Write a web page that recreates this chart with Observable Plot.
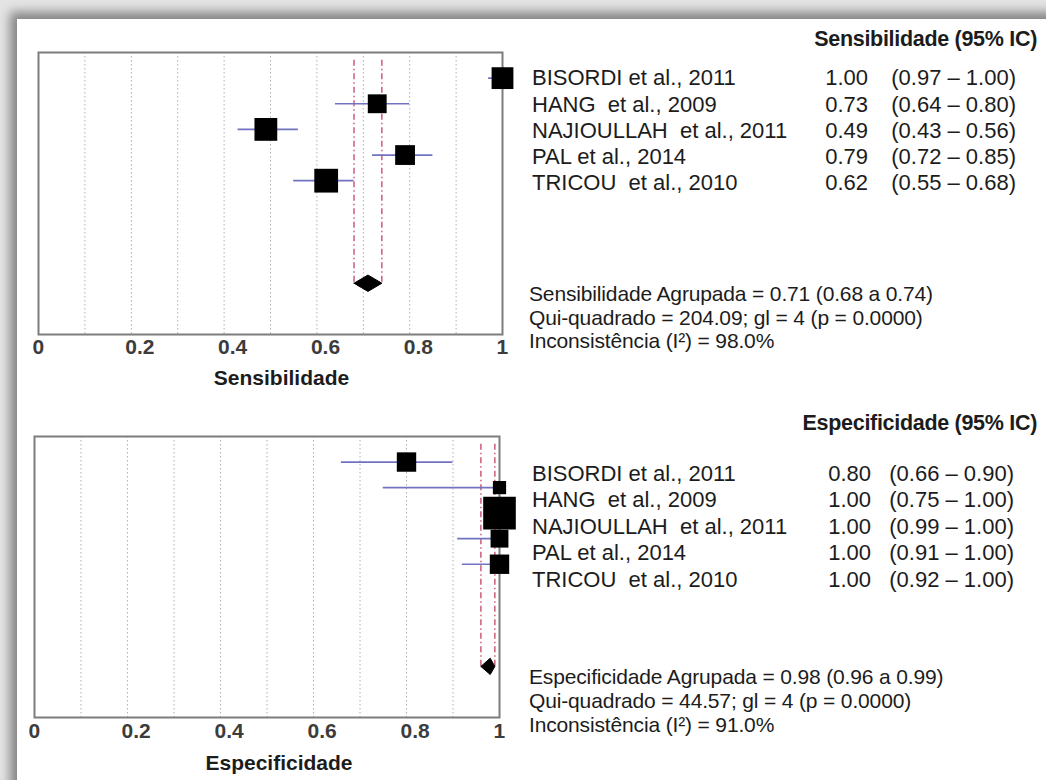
<!DOCTYPE html>
<html><head><meta charset="utf-8">
<script src="https://cdn.jsdelivr.net/npm/d3@7"></script>
<script src="https://cdn.jsdelivr.net/npm/@observablehq/plot@0.6"></script>
<style>
html,body{margin:0;padding:0;background:#fff;}
#wrap{position:relative;width:1046px;height:780px;overflow:hidden;background:#e4e4e4;font-family:"Liberation Sans",Arial,sans-serif;color:#1c1c1c;}
#paper{position:absolute;left:17px;top:19px;width:1100px;height:820px;background:#fff;box-shadow:-4px -4px 10px 3px rgba(0,0,0,0.42);}
.t{position:absolute;white-space:pre;transform:translateY(-50%);line-height:1;}
</style>
</head><body>
<div id="wrap"><div id="paper"></div></div>
<script>
// ---------- data ----------
const studies = ["BISORDI et al., 2011", "HANG  et al., 2009", "NAJIOULLAH  et al., 2011", "PAL et al., 2014", "TRICOU  et al., 2010"];
const sensEst = [1.00, 0.73, 0.49, 0.79, 0.62];
const sensLo  = [0.97, 0.64, 0.43, 0.72, 0.55];
const sensHi  = [1.00, 0.80, 0.56, 0.85, 0.68];
const sensWeight = [20.6, 15.4, 22.5, 17.0, 24.5];
const specEst = [0.80, 1.00, 1.00, 1.00, 1.00];
const specLo  = [0.66, 0.75, 0.99, 0.91, 0.92];
const specHi  = [0.90, 1.00, 1.00, 1.00, 1.00];
const specWeight = [16.3, 7.6, 46.1, 13.8, 16.3];
const sensPooled = [0.71, 0.68, 0.74];
const specPooled = [0.98, 0.96, 0.99];
const sensStats = {chi: "204.09", df: 4, p: "0.0000", i2: "98.0"};
const specStats = {chi: "44.57", df: 4, p: "0.0000", i2: "91.0"};
const axisTicks = [0, 0.2, 0.4, 0.6, 0.8, 1];
const gridTicks = [0.1, 0.2, 0.3, 0.4, 0.5, 0.6, 0.7, 0.8, 0.9];
const pooledRow = 9;

const FONT = "Liberation Sans, Arial, sans-serif";
const wrap = document.getElementById("wrap");

function forest({est, lo, hi, w, pooled, label, top, height, mL, mR, mT, mB, tickDy, labelDy, labelDx}) {
  const rows = est.map((e, i) => ({row: i + 1, est: e, lo: lo[i], hi: hi[i], w: w[i]}));
  const h = 0.32;
  const diamond = [
    {x: pooled[1], y: pooledRow}, {x: pooled[0], y: pooledRow - h},
    {x: pooled[2], y: pooledRow}, {x: pooled[0], y: pooledRow + h},
    {x: pooled[1], y: pooledRow}
  ];
  const svg = Plot.plot({
    width: 520, height,
    marginLeft: mL, marginRight: mR, marginTop: mT, marginBottom: mB,
    style: {background: "transparent", overflow: "visible", fontFamily: FONT},
    x: {domain: [0, 1], axis: null},
    y: {domain: [0, 11], reverse: true, axis: null},
    r: {type: "sqrt", domain: [0, 100], range: [0, 27.1]},
    marks: [
      Plot.ruleX(gridTicks, {x: d => d, stroke: "#b0b0b0", strokeDasharray: "1.5,2.5", strokeWidth: 1}),
      Plot.frame({stroke: "#7d7d7d", strokeWidth: 2}),
      Plot.ruleX([pooled[1], pooled[2]], {x: d => d, y1: 0.3, y2: pooledRow, stroke: "#c8506e", strokeDasharray: "6,3,1.5,3", strokeWidth: 1.4}),
      Plot.ruleY(rows, {y: "row", x1: "lo", x2: "hi", stroke: "#7272c2", strokeWidth: 1.7}),
      Plot.dot(rows, {x: "est", y: "row", r: "w", symbol: "square", fill: "black", stroke: "none"}),
      Plot.line(diamond, {x: "x", y: "y", fill: "black", stroke: "black", strokeWidth: 1}),
      Plot.text(axisTicks, {x: d => d, text: d => String(d), frameAnchor: "bottom", dy: tickDy, dx: -6, textAnchor: "start", fontSize: 21, fontWeight: "bold", fill: "#3c3c3c"}),
      Plot.text([label], {text: d => d, frameAnchor: "bottom", dy: labelDy, dx: labelDx, fontSize: 21, fontWeight: "bold", fill: "#1c1c1c"})
    ]
  });
  svg.style.position = "absolute";
  svg.style.left = "0px";
  svg.style.top = top + "px";
  wrap.appendChild(svg);
}

forest({est: sensEst, lo: sensLo, hi: sensHi, w: sensWeight, pooled: sensPooled, label: "Sensibilidade",
  top: 0, height: 395, mL: 38, mR: 18, mT: 52, mB: 61, tickDy: 19, labelDy: 50, labelDx: 11});
forest({est: specEst, lo: specLo, hi: specHi, w: specWeight, pooled: specPooled, label: "Especificidade",
  top: 390, height: 392, mL: 34, mR: 21, mT: 46, mB: 65, tickDy: 20, labelDy: 52, labelDx: 12});

function addText(str, x, y, {size = 22, weight = "normal", anchor = "start", ls = 0} = {}) {
  const d = document.createElement("div");
  d.className = "t";
  d.textContent = str;
  d.style.fontSize = size + "px";
  d.style.fontWeight = weight;
  d.style.letterSpacing = ls + "px";
  d.style.top = y + "px";
  if (anchor === "start") d.style.left = x + "px";
  else d.style.right = (1046 - x) + "px";
  wrap.appendChild(d);
}
const f2 = v => v.toFixed(2);

function table({title, est, lo, hi, pooled, stats, pooledName, titleY, rowsY, valEnd, ciEnd, sumY}) {
  addText(title, 1037, titleY, {size: 21.5, weight: "bold", anchor: "end", ls: -0.3});
  studies.forEach((s, i) => {
    addText(s, 532, rowsY[i]);
    addText(f2(est[i]), valEnd, rowsY[i], {anchor: "end"});
    addText(`(${f2(lo[i])} – ${f2(hi[i])})`, ciEnd, rowsY[i], {anchor: "end"});
  });
  addText(`${pooledName} = ${f2(pooled[0])} (${f2(pooled[1])} a ${f2(pooled[2])})`, 529, sumY[0], {size: 21, ls: -0.15});
  addText(`Qui-quadrado = ${stats.chi}; gl = ${stats.df} (p = ${stats.p})`, 529, sumY[1], {size: 21, ls: -0.15});
  addText(`Inconsistência (I²) = ${stats.i2}%`, 529, sumY[2], {size: 21, ls: -0.15});
}

table({title: "Sensibilidade (95% IC)", est: sensEst, lo: sensLo, hi: sensHi, pooled: sensPooled, stats: sensStats,
  pooledName: "Sensibilidade Agrupada", titleY: 40, rowsY: [78, 105, 131, 157, 183], valEnd: 868, ciEnd: 1016, sumY: [293, 317, 340]});
table({title: "Especificidade (95% IC)", est: specEst, lo: specLo, hi: specHi, pooled: specPooled, stats: specStats,
  pooledName: "Especificidade Agrupada", titleY: 424, rowsY: [474, 500, 527, 553, 580], valEnd: 871, ciEnd: 1014, sumY: [676, 700, 724]});
</script>
</body></html>
